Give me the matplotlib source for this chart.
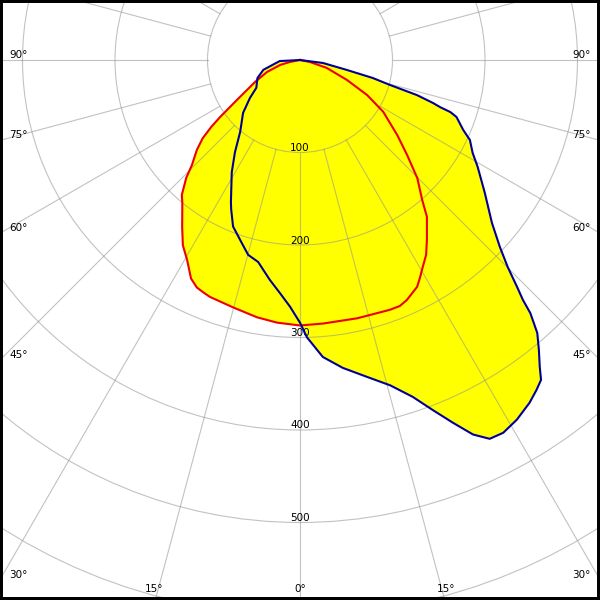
import numpy as np
import matplotlib.pyplot as plt

# C0-C180 plane (red), gamma in degrees (negative = left), intensity in cd
c0_gamma = [-90, -79, -76, -70, -64, -57.6, -54.5, -53.0, -51.2, -48.9, -45.8, -44.0,
            -41.2, -39.5, -35.2, -32.3, -29.5, -26.5, -24.4, -22.7, -20.8, -15.2, -9.5,
            -5, 0, 5, 12.5, 19.8, 22.1, 24, 27.3, 28.8, 30.7, 32.9,
            35.2, 39, 41.1, 44.8, 48.4, 52.3, 58.1, 62.4, 67, 73.5, 78.7, 90]
c0_cd = [0, 11, 22, 38, 54, 81, 106, 120, 135, 148, 163, 177,
         194, 200, 221, 237, 248, 264, 270, 272, 274, 277, 282,
         285, 287, 286, 286, 287, 287, 284, 276, 269, 260, 251,
         238, 218, 201, 180, 155, 133, 106, 82, 55, 30, 11, 0]

# C90-C270 plane (blue)
c90_gamma = [-90, -87, -75, -67, -57.5, -52.8, -47.1, -39.8, -35.2, -31.3, -25.9, -24.7,
             -21.9, -18.4, -14.9, -11.7, -7.8, -4.9, -2.3, 0, 1.45, 4.4, 7.9, 11.9,
             15.5, 18.5, 20.8, 22.9, 24.8, 26.6, 28.6, 31.1, 33.8, 35.6, 37.0, 38.0,
             39.5, 41.0, 42.3, 42.9, 43.7, 45.1, 46.9, 49.7, 54.3, 59.0, 61.7, 64.8,
             66.8, 70.0, 70.9, 71.4, 72.1, 73.3, 74.5, 76.1, 78, 82.6, 90]
c90_cd = [0, 22, 41, 50, 56, 68, 84, 101, 122, 142, 171, 178,
          194, 205, 218, 223, 240, 253, 267, 284, 300, 322, 336, 350,
          365, 384, 405, 426, 446, 458, 459, 454, 446, 439, 433, 421,
          406, 391, 370, 354, 340, 317, 296, 272, 246, 224, 212, 203,
          192, 180, 172, 160, 151, 132, 101, 81, 52, 25, 0]

rings = [100, 200, 300, 400, 500, 600]
ring_labels = ['100', '200', '300', '400', '500']
spokes = np.arange(0, 360, 15)
edge_angles = [90, 75, 60, 45, 30, 15, 0]


def to_xy(gamma, cd):
    g = np.radians(np.asarray(gamma, dtype=float))
    cd = np.asarray(cd, dtype=float)
    return cd * np.sin(g), -cd * np.cos(g)


scale = 0.925  # pixels per cd
xmax = 300 / scale
ytop = 60 / scale
ybot = -540 / scale

fig = plt.figure(figsize=(6, 6), dpi=100)
ax = fig.add_axes([0, 0, 1, 1])
ax.set_xlim(-xmax, xmax)
ax.set_ylim(ybot, ytop)
ax.set_aspect('equal')
ax.set_xticks([])
ax.set_yticks([])
for sp in ax.spines.values():
    sp.set_color('black')
    sp.set_linewidth(4.3)

# filled curves
x0, y0 = to_xy(c0_gamma, c0_cd)
x90, y90 = to_xy(c90_gamma, c90_cd)
ax.fill(x0, y0, color='#ffff00', lw=0, zorder=1)
ax.fill(x90, y90, color='#ffff00', lw=0, zorder=1)

# grid
grid_kw = dict(color='#909090', lw=0.8, alpha=0.55, zorder=2)
for r in rings:
    ax.add_patch(plt.Circle((0, 0), r, fill=False, **grid_kw))
for a in spokes:
    sx, sy = to_xy([a, a], [100, 900])
    ax.plot(sx, sy, **grid_kw)

# ring labels
for r, lab in zip(rings, ring_labels):
    ax.text(0, -r + 1.5 / scale, lab, ha='center', va='baseline', fontsize=7.5, zorder=3)

# angle labels at the frame edges
for a in edge_angles:
    if a == 0:
        ax.text(0, ybot + 11 / scale, '0°', ha='center', va='center', fontsize=7.5, zorder=3)
        continue
    t = np.tan(np.radians(a))
    y_exit = -xmax / t
    if y_exit >= ybot:
        ax.text(-xmax + 9 / scale, y_exit + 5 / scale, f'{a}°', ha='left', va='center',
                fontsize=7.5, zorder=3)
        ax.text(xmax - 9 / scale, y_exit + 5 / scale, f'{a}°', ha='right', va='center',
                fontsize=7.5, zorder=3)
    else:
        x_exit = -ybot * t
        for s in (-1, 1):
            ax.text(s * (x_exit + 1 / scale), ybot + 11 / scale, f'{a}°', ha='center',
                    va='center', fontsize=7.5, zorder=3)

# outlines
ax.plot(x0, y0, color='#ee0000', lw=1.5, zorder=4)
ax.plot(x90, y90, color='#000099', lw=1.5, zorder=5)

fig.savefig('out.png', dpi=100)
